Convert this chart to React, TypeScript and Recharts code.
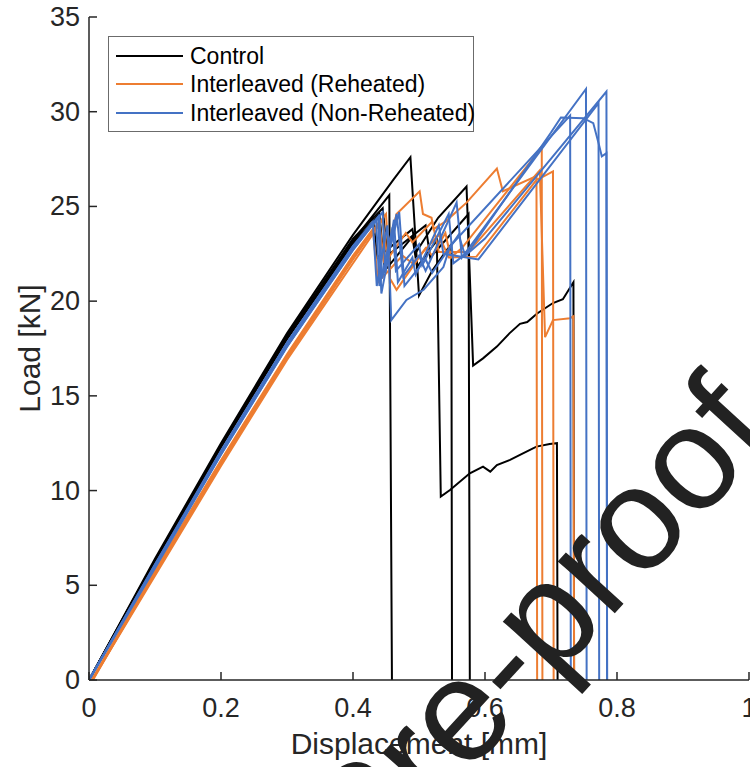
import React from 'react';
import { LineChart, Line, XAxis, YAxis } from 'recharts';

const AXIS = '#262626';
const FONT = '"Liberation Sans", Arial, Helvetica, sans-serif';
const BLACK = '#000000';
const ORANGE = '#ED7D31';
const BLUE = '#4472C4';

const xTicks = [0, 0.2, 0.4, 0.6, 0.8, 1];
const yTicks = [0, 5, 10, 15, 20, 25, 30, 35];

const legendItems = [
  { name: 'Control', color: BLACK },
  { name: 'Interleaved (Reheated)', color: ORANGE },
  { name: 'Interleaved (Non-Reheated)', color: BLUE },
];

// [displacement mm, load kN]
const control1 = [[0, 0], [0.1, 6.3], [0.2, 12.4], [0.3, 18.1], [0.4, 23.2], [0.455, 25.6], [0.459, 0]];
const control2 = [[0, 0], [0.1, 6.4], [0.2, 12.5], [0.3, 18.3], [0.4, 23.5], [0.461, 26.4], [0.487, 27.6], [0.5, 20.3], [0.52, 21.6], [0.54, 22.6], [0.549, 23.0], [0.55, 0]];
const control3 = [[0, 0], [0.1, 6.2], [0.2, 12.3], [0.3, 18.0], [0.4, 23.0], [0.44, 24.6], [0.448, 21.6], [0.49, 23.4], [0.497, 21.8], [0.527, 23.2], [0.533, 9.68], [0.547, 10.03], [0.577, 10.91], [0.597, 11.26], [0.608, 11.0], [0.618, 11.35], [0.638, 11.62], [0.653, 11.88], [0.678, 12.32], [0.698, 12.46], [0.709, 12.5], [0.71, 0]];
const control4 = [[0, 0], [0.1, 6.3], [0.2, 12.4], [0.3, 18.2], [0.4, 23.3], [0.445, 24.9], [0.452, 22.4], [0.51, 24.0], [0.517, 22.3], [0.575, 24.6], [0.577, 0]];
const control5 = [[0, 0], [0.1, 6.3], [0.2, 12.3], [0.3, 18.0], [0.4, 23.1], [0.43, 24.4], [0.437, 22.3], [0.49, 23.8], [0.496, 22.6], [0.529, 24.4], [0.572, 26.05], [0.582, 16.6], [0.597, 16.98], [0.618, 17.6], [0.637, 18.3], [0.653, 18.8], [0.664, 18.9], [0.679, 19.35], [0.703, 19.9], [0.718, 20.1], [0.734, 21.0], [0.735, 0]];

const reheated1 = [[0.005, 0], [0.1, 5.6], [0.2, 11.4], [0.3, 17.0], [0.4, 22.2], [0.44, 24.2], [0.447, 22.0], [0.466, 24.6], [0.501, 25.8], [0.506, 24.6], [0.519, 24.4], [0.522, 23.8], [0.54, 24.2], [0.572, 25.2], [0.618, 27.0], [0.627, 25.8], [0.678, 26.6], [0.679, 0]];
const reheated2 = [[0.006, 0], [0.1, 5.7], [0.2, 11.5], [0.3, 17.1], [0.4, 22.3], [0.45, 24.6], [0.456, 21.2], [0.466, 20.6], [0.486, 21.6], [0.51, 22.8], [0.52, 22.4], [0.54, 23.6], [0.548, 22.3], [0.565, 22.8], [0.686, 28.1], [0.687, 0]];
const reheated3 = [[0.004, 0], [0.1, 5.8], [0.2, 11.6], [0.3, 17.2], [0.4, 22.4], [0.43, 23.8], [0.438, 21.0], [0.475, 22.4], [0.49, 22.0], [0.53, 23.5], [0.545, 22.3], [0.587, 22.35], [0.678, 26.4], [0.684, 26.5], [0.703, 26.85], [0.704, 0]];
const reheated4 = [[0.005, 0], [0.1, 5.5], [0.2, 11.3], [0.3, 16.9], [0.4, 22.0], [0.445, 24.3], [0.452, 22.2], [0.48, 23.6], [0.49, 23.1], [0.52, 24.2], [0.53, 22.6], [0.575, 22.6], [0.683, 26.9], [0.691, 18.1], [0.703, 19.0], [0.729, 19.1], [0.734, 19.2], [0.735, 0]];

const nonReheated1 = [[0, 0], [0.1, 6.0], [0.2, 12.0], [0.3, 17.7], [0.4, 22.8], [0.438, 24.46], [0.443, 20.4], [0.466, 24.6], [0.476, 21.3], [0.5, 22.4], [0.51, 21.6], [0.557, 25.2], [0.565, 22.3], [0.753, 31.2], [0.754, 0]];
const nonReheated2 = [[0, 0], [0.1, 6.1], [0.2, 12.1], [0.3, 17.8], [0.4, 22.9], [0.43, 24.2], [0.436, 20.8], [0.452, 24.0], [0.456, 20.9], [0.458, 19.0], [0.481, 20.06], [0.507, 20.6], [0.537, 21.8], [0.547, 22.9], [0.729, 29.8], [0.73, 0]];
const nonReheated3 = [[0, 0], [0.1, 5.9], [0.2, 11.9], [0.3, 17.6], [0.4, 22.7], [0.445, 24.7], [0.449, 21.5], [0.462, 24.3], [0.468, 21.0], [0.49, 22.3], [0.495, 21.4], [0.53, 24.0], [0.537, 22.5], [0.59, 22.2], [0.772, 30.45], [0.773, 0]];
const nonReheated4 = [[0, 0], [0.1, 6.0], [0.2, 11.9], [0.3, 17.6], [0.4, 22.7], [0.44, 24.5], [0.444, 21.2], [0.47, 24.7], [0.478, 20.8], [0.51, 22.2], [0.52, 21.5], [0.56, 23.5], [0.57, 22.4], [0.6, 23.3], [0.784, 31.06], [0.785, 0]];
const nonReheated5 = [[0, 0], [0.1, 6.1], [0.2, 12.0], [0.3, 17.8], [0.4, 22.9], [0.435, 24.3], [0.44, 20.8], [0.46, 23.9], [0.465, 21.6], [0.5, 23.0], [0.505, 21.9], [0.545, 24.6], [0.552, 22.0], [0.575, 22.6], [0.7, 28.9], [0.715, 29.7], [0.749, 29.66], [0.764, 29.4], [0.772, 28.35], [0.777, 27.64], [0.784, 27.81], [0.785, 0]];

const specimens = [
  { data: control1, color: BLACK },
  { data: control2, color: BLACK },
  { data: control3, color: BLACK },
  { data: control4, color: BLACK },
  { data: control5, color: BLACK },
  { data: reheated1, color: ORANGE },
  { data: reheated2, color: ORANGE },
  { data: reheated3, color: ORANGE },
  { data: reheated4, color: ORANGE },
  { data: nonReheated1, color: BLUE },
  { data: nonReheated2, color: BLUE },
  { data: nonReheated3, color: BLUE },
  { data: nonReheated4, color: BLUE },
  { data: nonReheated5, color: BLUE },
];

const toPoints = (arr: number[][]) => arr.map(([x, y]) => ({ x, y }));

// MATLAB style ticks point into the plot box
function BottomTick({ x, y, payload }: any) {
  return (
    <g>
      <line x1={x} y1={y} x2={x} y2={y - 8} stroke={AXIS} strokeWidth={1.5} />
      <text x={x} y={y + 37} textAnchor="middle" fill={AXIS} fontSize={27} fontFamily={FONT}>
        {String(payload.value)}
      </text>
    </g>
  );
}

function TopTick({ x, y }: any) {
  return <line x1={x} y1={y} x2={x} y2={y + 8} stroke={AXIS} strokeWidth={1.5} />;
}

function LeftTick({ x, y, payload }: any) {
  return (
    <g>
      <line x1={x} y1={y} x2={x + 8} y2={y} stroke={AXIS} strokeWidth={1.5} />
      <text x={x - 9} y={y + 9} textAnchor="end" fill={AXIS} fontSize={27} fontFamily={FONT}>
        {String(payload.value)}
      </text>
    </g>
  );
}

function RightTick({ x, y }: any) {
  return <line x1={x} y1={y} x2={x - 8} y2={y} stroke={AXIS} strokeWidth={1.5} />;
}

const xLabel = (props: any) => {
  const vb = props.viewBox || { x: 89, width: 660 };
  return (
    <text x={vb.x + vb.width / 2} y={754} textAnchor="middle" fill={AXIS} fontSize={30} fontFamily={FONT}>
      Displacement [mm]
    </text>
  );
};

const yLabel = (props: any) => {
  const vb = props.viewBox || { y: 17, height: 663 };
  const cx = 40;
  const cy = vb.y + vb.height / 2;
  return (
    <text x={cx} y={cy} transform={`rotate(-90 ${cx} ${cy})`} textAnchor="middle" fill={AXIS} fontSize={30} fontFamily={FONT}>
      Load [kN]
    </text>
  );
};

export default function App() {
  return (
    <div style={{ position: 'absolute', left: 0, top: 0, width: 750, height: 767, overflow: 'hidden', background: '#fff' }}>
      <LineChart width={800} height={767} margin={{ top: 17, right: 51, bottom: 0, left: 0 }}>
        <XAxis
          dataKey="x"
          type="number"
          domain={[0, 1]}
          ticks={xTicks}
          interval={0}
          height={87}
          tickSize={0}
          tickMargin={0}
          tickLine={false}
          tick={<BottomTick />}
          axisLine={{ stroke: AXIS, strokeWidth: 1.5 }}
          allowDataOverflow
          label={{ content: xLabel }}
        />
        <XAxis
          xAxisId="top"
          orientation="top"
          dataKey="x"
          type="number"
          domain={[0, 1]}
          ticks={xTicks}
          interval={0}
          height={0}
          tickSize={0}
          tickMargin={0}
          tickLine={false}
          tick={<TopTick />}
          axisLine={{ stroke: AXIS, strokeWidth: 1.5 }}
        />
        <YAxis
          type="number"
          domain={[0, 35]}
          ticks={yTicks}
          interval={0}
          width={89}
          tickSize={0}
          tickMargin={0}
          tickLine={false}
          tick={<LeftTick />}
          axisLine={{ stroke: AXIS, strokeWidth: 1.5 }}
          allowDataOverflow
          label={{ content: yLabel }}
        />
        <YAxis
          yAxisId="right"
          orientation="right"
          type="number"
          domain={[0, 35]}
          ticks={yTicks}
          interval={0}
          width={0}
          tickSize={0}
          tickMargin={0}
          tickLine={false}
          tick={<RightTick />}
          axisLine={{ stroke: AXIS, strokeWidth: 1.5 }}
        />
        {specimens.map((s, i) => (
          <Line
            key={i}
            data={toPoints(s.data)}
            dataKey="y"
            type="linear"
            stroke={s.color}
            strokeWidth={2}
            dot={false}
            activeDot={false}
            isAnimationActive={false}
          />
        ))}
      </LineChart>

      <div
        style={{
          position: 'absolute',
          left: 108,
          top: 36,
          width: 364,
          height: 94,
          border: '1px solid #6b6b6b',
          background: '#fff',
          fontFamily: FONT,
        }}
      >
        {legendItems.map((item, i) => (
          <div key={item.name} style={{ position: 'absolute', left: 0, top: 5 + i * 28.3, height: 28, width: '100%' }}>
            <div style={{ position: 'absolute', left: 7, top: 13, width: 67, height: 2, background: item.color }} />
            <div style={{ position: 'absolute', left: 81, top: 0, fontSize: 23, lineHeight: '28px', color: '#000', whiteSpace: 'nowrap' }}>
              {item.name}
            </div>
          </div>
        ))}
      </div>

      <svg width={750} height={767} style={{ position: 'absolute', left: 0, top: 0, pointerEvents: 'none' }}>
        <text x={16} y={1267} transform="rotate(-47.5 16 1267)" fontSize={146} fill="#222" fontFamily={FONT}>
          Journal Pre-proof
        </text>
      </svg>
    </div>
  );
}
